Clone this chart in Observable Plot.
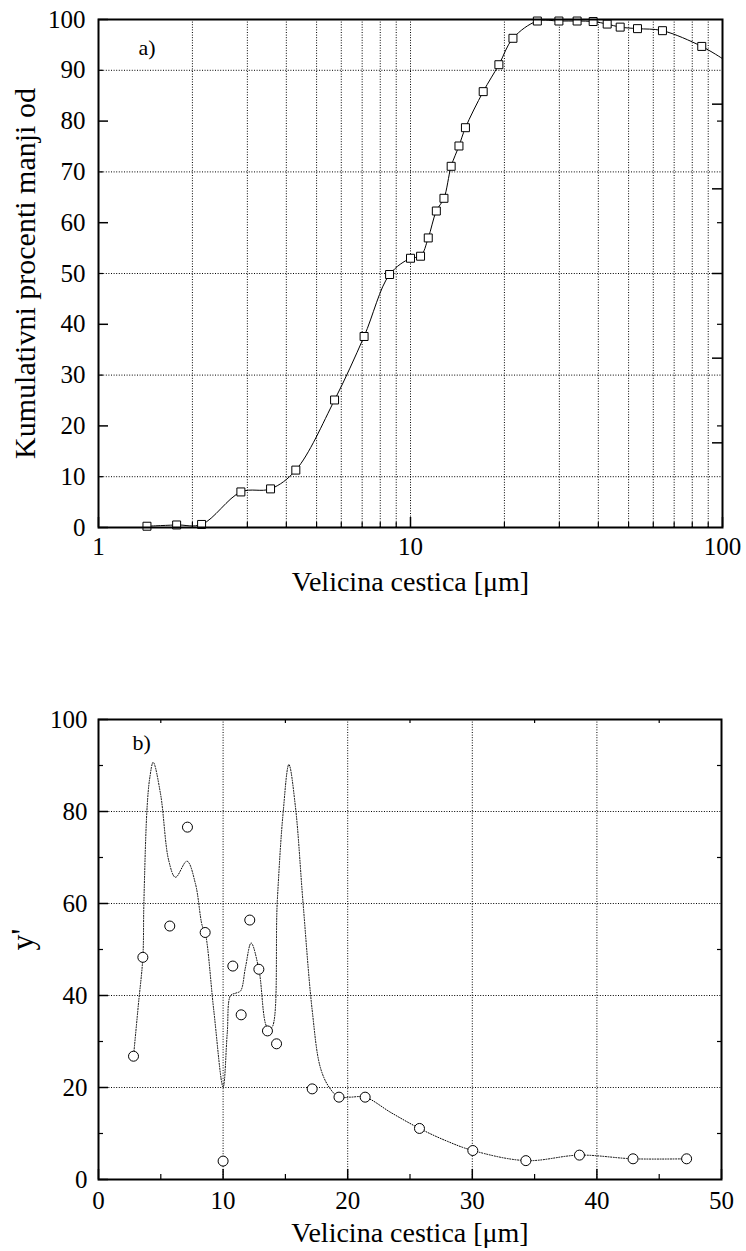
<!DOCTYPE html>
<html><head><meta charset="utf-8">
<script src="https://cdn.jsdelivr.net/npm/d3@7"></script>
<script src="https://cdn.jsdelivr.net/npm/@observablehq/plot@0.6"></script>
<style>
body{margin:0;background:#fff;}
#chart{width:746px;}
#chart svg{display:block;}
#chart svg, #chart svg text{font-family:"Liberation Serif","Times New Roman",serif !important;}
</style></head><body><div id="chart"></div>
<script>
// ---- Chart a) cumulative distribution (log x) ----
const sizeA = [1.43, 1.78, 2.14, 2.86, 3.56, 4.29, 5.71, 7.1, 8.57, 10.0, 10.77, 11.4, 12.1, 12.8, 13.5, 14.3, 15.0, 17.1, 19.2, 21.3, 25.5, 29.9, 34.2, 38.5, 42.7, 47.0, 53.4, 64.2, 85.8];
const cumA  = [0.25, 0.5, 0.6, 7.0, 7.6, 11.3, 25.1, 37.6, 49.8, 53.0, 53.4, 57.0, 62.3, 64.8, 71.1, 75.1, 78.7, 85.8, 91.1, 96.3, 99.7, 99.7, 99.7, 99.6, 99.1, 98.5, 98.2, 97.8, 94.7];
// fitted curve: the measured points plus its end at the right border
const fitAx = [...sizeA, 100];
const fitAy = [...cumA, 92.3];
const yTicksA = [0, 10, 20, 30, 40, 50, 60, 70, 80, 90, 100];
const xLabelsA = [1, 10, 100];
const xMinorA = [2, 3, 4, 5, 6, 7, 8, 9, 20, 30, 40, 50, 60, 70, 80, 90];

// ---- Chart b) derivative ----
const sizeB = [2.81, 3.56, 5.72, 7.14, 8.56, 10.0, 10.78, 11.45, 12.14, 12.87, 13.56, 14.29, 17.15, 19.3, 21.4, 25.76, 30.04, 34.3, 38.6, 42.9, 47.2];
const derivB = [26.8, 48.3, 55.1, 76.6, 53.7, 4.0, 46.4, 35.8, 56.4, 45.7, 32.3, 29.5, 19.7, 17.9, 17.9, 11.1, 6.3, 4.1, 5.3, 4.5, 4.5];
const curveBx = [2.81, 3.2, 3.56, 3.64, 3.9, 4.12, 4.39, 4.98, 5.64, 6.18, 7.1, 7.78, 8.32, 8.56, 9.25, 10.0, 10.33, 10.6, 11.0, 11.4, 11.8, 12.25, 12.87, 13.54, 13.9, 14.35, 14.82, 15.28, 15.81, 16.4, 17.15, 17.8, 18.5, 19.3, 20.2, 21.4, 23.5, 25.76, 28.0, 30.04, 34.3, 38.6, 42.9, 47.2];
const curveBy = [26.8, 38.0, 48.3, 59.9, 80.9, 87.4, 90.7, 83.8, 69.3, 65.7, 69.2, 64.3, 55.2, 53.7, 36.8, 20.1, 31.7, 40.0, 40.5, 41.0, 46.2, 51.4, 45.7, 33.1, 33.0, 60.6, 79.8, 90.2, 80.9, 60.7, 36.8, 24.4, 20.1, 17.9, 17.9, 17.9, 14.5, 11.1, 8.3, 6.3, 4.1, 5.3, 4.5, 4.5];
const xMajorB = [0, 10, 20, 30, 40, 50];
const xMinorB = [5, 15, 25, 35, 45];
const yMajorB = [0, 20, 40, 60, 80, 100];
const yMinorB = [10, 30, 50, 70, 90];

const FONT = "Liberation Serif, Times New Roman, serif";
const dot = "1,1.6";
const TICKFS = 25, XTITLEFS = 28, YTITLEFS = 30, TAGFS = 22;

// ---------- Plot a ----------
const mA = {top: 19, bottom: 93, left: 98, right: 24};
const HA = 620, WA = 746;
const fwA = WA - mA.left - mA.right, fhA = HA - mA.top - mA.bottom;
const plotA = Plot.plot({
  width: WA, height: HA,
  marginTop: mA.top, marginBottom: mA.bottom, marginLeft: mA.left, marginRight: mA.right,
  style: {fontFamily: FONT, background: "white", overflow: "visible"},
  x: {type: "log", domain: [1, 100]},
  y: {domain: [0, 100]},
  marks: [
    Plot.ruleX([...xMinorA, 10], {x: d => d, stroke: "#000", strokeWidth: 1, strokeDasharray: dot}),
    Plot.ruleY([10, 30, 50, 70, 90], {y: d => d, stroke: "#000", strokeWidth: 1, strokeDasharray: dot}),
    // bottom ticks
    Plot.ruleX(xLabelsA, {x: d => d, insetTop: fhA - 10, stroke: "#000", strokeWidth: 1.5}),
    Plot.ruleX(xMinorA, {x: d => d, insetTop: fhA - 5, stroke: "#000", strokeWidth: 1.2}),
    // left ticks
    Plot.ruleY([0, 20, 40, 60, 80, 100], {y: d => d, insetRight: fwA - 10, stroke: "#000", strokeWidth: 1.5}),
    Plot.ruleY([10, 30, 50, 70, 90], {y: d => d, insetRight: fwA - 5, stroke: "#000", strokeWidth: 1.2}),
    // right ticks
    Plot.ruleY([100/6, 200/6, 50, 400/6, 500/6], {y: d => d, insetLeft: fwA - 10, stroke: "#000", strokeWidth: 1.5}),
    Plot.ruleY([20, 40, 60, 80], {y: d => d, insetLeft: fwA - 5, stroke: "#000", strokeWidth: 1.2}),
    Plot.line(fitAx, {x: fitAx, y: fitAy, curve: "catmull-rom", stroke: "#000", strokeWidth: 1}),
    Plot.dot(sizeA, {x: sizeA, y: cumA, symbol: "square", r: 4.5, fill: "white", stroke: "#000", strokeWidth: 1}),
    Plot.frame({stroke: "#000", strokeWidth: 2}),
    Plot.axisX({ticks: xLabelsA, tickFormat: d => String(d), tickSize: 0, tickPadding: 10, fontSize: TICKFS, label: null}),
    Plot.axisY({ticks: yTicksA, tickFormat: d => String(d), tickSize: 0, tickPadding: 13, fontSize: TICKFS, label: null}),
    Plot.text(["Velicina cestica [μm]"], {frameAnchor: "bottom", dy: 55, fontSize: XTITLEFS, textAnchor: "middle", lineAnchor: "middle"}),
    Plot.text(["Kumulativni procenti manji od"], {frameAnchor: "left", dx: -73, rotate: -90, fontSize: YTITLEFS, textAnchor: "middle", lineAnchor: "middle"}),
    Plot.text(["a)"], {frameAnchor: "top-left", dx: 40, dy: 28.5, fontSize: TAGFS, textAnchor: "start", lineAnchor: "middle"})
  ]
});

// ---------- Plot b ----------
const mB = {top: 99, bottom: 72, left: 98, right: 25};
const HB = 631, WB = 746;
const fwB = WB - mB.left - mB.right, fhB = HB - mB.top - mB.bottom;
const plotB = Plot.plot({
  width: WB, height: HB,
  marginTop: mB.top, marginBottom: mB.bottom, marginLeft: mB.left, marginRight: mB.right,
  style: {fontFamily: FONT, background: "white", overflow: "visible"},
  x: {domain: [0, 50]},
  y: {domain: [0, 100]},
  marks: [
    Plot.ruleX([10, 20, 30, 40], {x: d => d, stroke: "#000", strokeWidth: 1, strokeDasharray: dot}),
    Plot.ruleY([20, 40, 60, 80], {y: d => d, stroke: "#000", strokeWidth: 1, strokeDasharray: dot}),
    Plot.ruleX(xMajorB, {x: d => d, insetTop: fhB - 10, stroke: "#000", strokeWidth: 1.5}),
    Plot.ruleX(xMinorB, {x: d => d, insetTop: fhB - 5, stroke: "#000", strokeWidth: 1.2}),
    Plot.ruleX(xMinorB, {x: d => d, insetBottom: fhB - 4, stroke: "#000", strokeWidth: 1.2}),
    Plot.ruleY(yMajorB, {y: d => d, insetRight: fwB - 10, stroke: "#000", strokeWidth: 1.5}),
    Plot.ruleY(yMinorB, {y: d => d, insetRight: fwB - 5, stroke: "#000", strokeWidth: 1.2}),
    Plot.ruleY(yMinorB, {y: d => d, insetLeft: fwB - 4, stroke: "#000", strokeWidth: 1.2}),
    Plot.line(curveBx, {x: curveBx, y: curveBy, curve: "catmull-rom", stroke: "#000", strokeWidth: 1, strokeDasharray: dot}),
    Plot.dot(sizeB, {x: sizeB, y: derivB, r: 5, fill: "white", stroke: "#000", strokeWidth: 1}),
    Plot.frame({stroke: "#000", strokeWidth: 2}),
    Plot.axisX({ticks: xMajorB, tickFormat: d => String(d), tickSize: 0, tickPadding: 12, fontSize: TICKFS, label: null}),
    Plot.axisY({ticks: yMajorB, tickFormat: d => String(d), tickSize: 0, tickPadding: 11, fontSize: TICKFS, label: null}),
    Plot.text(["Velicina cestica [μm]"], {frameAnchor: "bottom", dy: 54, fontSize: XTITLEFS, textAnchor: "middle", lineAnchor: "middle"}),
    Plot.text(["y'"], {frameAnchor: "left", dx: -76, dy: -10, rotate: -90, fontSize: 32, textAnchor: "middle", lineAnchor: "middle"}),
    Plot.text(["b)"], {frameAnchor: "top-left", dx: 34, dy: 23.5, fontSize: TAGFS, textAnchor: "start", lineAnchor: "middle"})
  ]
});

const host = document.getElementById("chart");
host.appendChild(plotA);
host.appendChild(plotB);
</script>
</body></html>
